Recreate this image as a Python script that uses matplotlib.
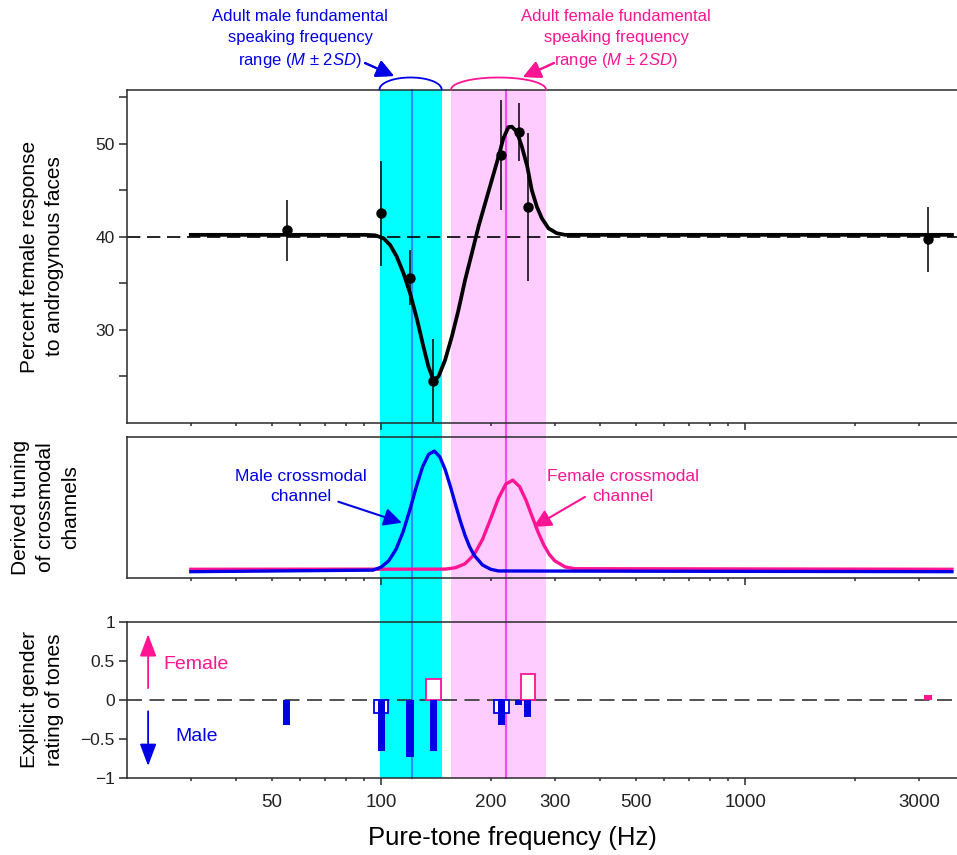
import numpy as np
import matplotlib.pyplot as plt
from matplotlib.transforms import blended_transform_factory
from matplotlib.patches import Rectangle
from matplotlib.lines import Line2D

plt.rcParams['font.family'] = ['Liberation Sans', 'DejaVu Sans']
plt.rcParams['mathtext.fontset'] = 'custom'
plt.rcParams['mathtext.rm'] = 'Liberation Sans'
plt.rcParams['mathtext.it'] = 'Liberation Sans:italic'

MALE = '#0000e6'
FEMALE = '#ff1493'
INK = '#2a2a2a'

# tones that were tested (Hz) and the face responses
tone_hz = [55, 100, 120, 139, 214, 239, 253, 3180]
pct_female = [40.7, 42.5, 35.6, 24.5, 48.8, 51.3, 43.2, 39.7]
pct_err = [3.3, 5.7, 3.0, 4.5, 5.9, 3.1, 8.0, 3.5]
chance_level = 40

# fitted curve
fit_hz = [30, 90.4, 96.3, 101.5, 105.9, 110.4, 115.2, 120.1, 125.3, 130.7,
          134.9, 139.2, 143.7, 149.9, 156.4, 163.1, 170.1, 177.5, 185.1,
          193.1, 201.4, 210.1, 216.7, 223.7, 228.6, 236, 243.6, 252.1, 259.3,
          267.8, 276.4, 288.3, 303.9, 320.2, 341, 3700]
fit_pct = [40.2, 40.2, 40.15, 39.83, 39.1, 37.85, 36.06, 33.9, 31.2, 28.15,
           26.0, 24.57, 24.92, 26.72, 29.23, 32.1, 35.34, 38.2, 41.08, 43.6,
           46.1, 48.6, 50.6, 51.8, 51.85, 51.3, 49.7, 47.54, 45.03, 43.23,
           41.98, 40.9, 40.37, 40.2, 40.2, 40.2]

# derived crossmodal channels (arbitrary units)
male_hz = [30, 95, 100, 105, 110, 115, 120, 125, 130, 135, 140, 145, 150, 155,
           160, 165, 170, 175, 180, 190, 200, 210, 3700]
male_tuning = [0.047, 0.058, 0.079, 0.125, 0.208, 0.332, 0.488, 0.651, 0.791,
               0.879, 0.902, 0.861, 0.770, 0.651, 0.525, 0.407, 0.305, 0.224,
               0.164, 0.094, 0.064, 0.052, 0.047]
female_hz = [30, 150, 160, 170, 180, 190, 200, 210, 220, 230, 240, 250, 260,
             270, 280, 290, 300, 320, 340, 3700]
female_tuning = [0.064, 0.065, 0.075, 0.103, 0.167, 0.277, 0.423, 0.567, 0.668,
                 0.696, 0.651, 0.554, 0.437, 0.326, 0.235, 0.168, 0.124, 0.081,
                 0.068, 0.064]

# explicit gender rating of the tones
rating = [-0.33, -0.663, -0.735, -0.663, -0.33, -0.073, -0.223, 0.06]
box_hz = [100, 139, 214, 253]
box_rating = [-0.167, 0.26, -0.167, 0.333]

# speaking frequency ranges (M +/- 2SD) and means
male_range = (99, 146.6)
female_range = (155.7, 283.6)
male_mean = 121.9
female_mean = 220

W, H = 957, 855
fig = plt.figure(figsize=(W / 100, H / 100), dpi=100)


def fx(px):
    return px / W


def fy(py):
    return 1 - py / H


left = fx(126.7)
width = 1 - left
ax1 = fig.add_axes([left, fy(423.3), width, fy(90) - fy(423.3)])
ax2 = fig.add_axes([left, fy(578.3), width, fy(437.3) - fy(578.3)])
ax3 = fig.add_axes([left, fy(777.7), width, fy(621.7) - fy(777.7)])

for ax in (ax1, ax2, ax3):
    ax.set_facecolor('none')
    ax.set_xscale('log')
    ax.set_xlim(20, 3820)
    ax.spines['right'].set_visible(False)
    for s in ('left', 'top', 'bottom'):
        ax.spines[s].set_color(INK)
        ax.spines[s].set_linewidth(1.1)
    ax.set_xticks([100, 1000])
    ax.set_xticks([30, 40, 50, 60, 70, 80, 90, 200, 300, 400, 500, 600, 700,
                   800, 900, 2000, 3000], minor=True)
    ax.tick_params(axis='x', which='major', length=5, width=1.1, color=INK,
                   pad=7, labelsize=13.5, labelcolor='#222')
    ax.tick_params(axis='x', which='minor', length=2.5, width=1.1, color=INK,
                   pad=9.5, labelsize=13.5, labelcolor='#222')
    ax.tick_params(axis='y', length=6, width=1.1, color=INK, pad=2.5,
                   labelsize=12.5, labelcolor='#222')
    ax.tick_params(axis='y', which='minor', length=6, width=1.1, color=INK)
    ax.xaxis.set_major_formatter(plt.NullFormatter())
    ax.xaxis.set_minor_formatter(plt.NullFormatter())

# shaded speaking ranges and means, running through all three panels
span = blended_transform_factory(ax1.transData, fig.transFigure)
y_lo, y_hi = fy(777.7), fy(90)
for (a, b), col in ((male_range, '#00ffff'), (female_range, '#ffccff')):
    fig.add_artist(Rectangle((a, y_lo), b - a, y_hi - y_lo, transform=span,
                             facecolor=col, edgecolor='none', zorder=-2))
for m, col in ((male_mean, '#1e90ff'), (female_mean, '#ff44ff')):
    fig.add_artist(Line2D([m, m], [y_lo, y_hi], transform=span, color=col,
                          lw=1.5, zorder=-1))

# arcs over each range
t = np.linspace(0, np.pi, 60)
for (a, b), col in ((male_range, MALE), (female_range, FEMALE)):
    lc = (np.log10(a) + np.log10(b)) / 2
    hw = (np.log10(b) - np.log10(a)) / 2
    xs = 10 ** (lc + hw * np.cos(t))
    ys = fy(89.5) + (fy(77.5) - fy(89.5)) * np.sin(t)
    fig.add_artist(Line2D(xs, ys, transform=span, color=col, lw=1.3))

# top panel
ax1.axhline(chance_level, color='black', lw=1.2, dashes=(8, 4), zorder=1)
ax1.plot(fit_hz, fit_pct, color='black', lw=2.7, solid_joinstyle='round',
         zorder=3)
ax1.errorbar(tone_hz, pct_female, yerr=pct_err, fmt='o', color='black',
             ms=6.5, elinewidth=1.1, capsize=0, zorder=4)
ax1.set_ylim(19.9, 55.8)
ax1.set_yticks([30, 40, 50])
ax1.set_yticks([25, 35, 45, 55], minor=True)

# middle panel
ax2.plot(female_hz, female_tuning, color=FEMALE, lw=2.4, zorder=3)
ax2.plot(male_hz, male_tuning, color=MALE, lw=2.4, zorder=3)
ax2.set_ylim(0, 1)
ax2.set_yticks([])

ax2.text(60.2, 0.65, 'Male crossmodal\nchannel', color=MALE, fontsize=12.5,
         ha='center', va='center', linespacing=1.4)
ax2.annotate('', xy=(114, 0.394), xytext=(76.3, 0.543),
             arrowprops=dict(arrowstyle='-|>,head_length=0.6,head_width=0.3',
                             color=MALE, lw=1.5, mutation_scale=18,
                             shrinkA=0, shrinkB=0))
ax2.text(461, 0.65, 'Female crossmodal\nchannel', color=FEMALE, fontsize=12.5,
         ha='center', va='center', linespacing=1.4)
ax2.annotate('', xy=(262, 0.364), xytext=(363, 0.577),
             arrowprops=dict(arrowstyle='-|>,head_length=0.6,head_width=0.3',
                             color=FEMALE, lw=1.5, mutation_scale=18,
                             shrinkA=0, shrinkB=0))


# bottom panel
def log_bar(ax, f, h, half_dec, **kw):
    f = np.asarray(f, float)
    lo = f * 10 ** (-half_dec)
    ax.bar(lo, h, width=f * 10 ** half_dec - lo, align='edge', **kw)


ax3.axhline(0, color='#333333', lw=1.2, dashes=(9, 4.5), zorder=1)
box_cols = [FEMALE if v > 0 else MALE for v in box_rating]
log_bar(ax3, box_hz, box_rating, 0.0202, facecolor='white',
        edgecolor=box_cols, linewidth=1.3, zorder=2)
bar_cols = [FEMALE if v > 0 else MALE for v in rating]
log_bar(ax3, tone_hz, rating, 0.0098, color=bar_cols, linewidth=0, zorder=3)
ax3.set_ylim(-1, 1)
ax3.set_yticks([1, 0.5, 0, -0.5, -1])
ax3.set_yticklabels(['1', '0.5', '0', '\u22120.5', '\u22121'])
ax3.xaxis.set_major_formatter(plt.FixedFormatter(['100', '1000']))
ax3.xaxis.set_minor_formatter(plt.FixedFormatter(
    ['', '', '50', '', '', '', '', '200', '300', '', '500', '', '', '', '',
     '', '3000']))

vstyle = '-|>,head_length=0.8,head_width=0.3'
ax3.annotate('', xy=(22.9, 0.84), xytext=(22.9, 0.148),
             arrowprops=dict(arrowstyle=vstyle, color=FEMALE, lw=1.3,
                             mutation_scale=17, shrinkA=0, shrinkB=0))
ax3.annotate('', xy=(22.9, -0.85), xytext=(22.9, -0.149),
             arrowprops=dict(arrowstyle=vstyle, color=MALE, lw=1.3,
                             mutation_scale=17, shrinkA=0, shrinkB=0))
ax3.text(25.2, 0.45, 'Female', color=FEMALE, fontsize=14, va='center')
ax3.text(27.2, -0.47, 'Male', color=MALE, fontsize=14, va='center')

# labels
fig.text(fx(41.7), fy(256.5), 'Percent female response\nto androgynous faces',
         rotation=90, ha='center', va='center', fontsize=15, linespacing=1.4)
fig.text(fx(45.8), fy(507.5), 'Derived tuning\nof crossmodal\nchannels',
         rotation=90, ha='center', va='center', fontsize=15, linespacing=1.4)
fig.text(fx(41.7), fy(699.5), 'Explicit gender\nrating of tones',
         rotation=90, ha='center', va='center', fontsize=15, linespacing=1.4)
fig.text(fx(512), fy(838), 'Pure-tone frequency (Hz)', ha='center',
         va='center', fontsize=18.5)

fig.text(fx(300), fy(39.5),
         'Adult male fundamental\nspeaking frequency\nrange ($\\mathit{M}$ \u00b1 2$\\mathit{SD}$)',
         color=MALE, ha='center', va='center', fontsize=12, linespacing=1.45)
fig.text(fx(616), fy(39.5),
         'Adult female fundamental\nspeaking frequency\nrange ($\\mathit{M}$ \u00b1 2$\\mathit{SD}$)',
         color=FEMALE, ha='center', va='center', fontsize=12, linespacing=1.45)
tstyle = '-|>,head_length=0.6,head_width=0.3'
fig.add_artist(plt.annotate('', xy=(fx(394), fy(76)), xytext=(fx(365), fy(63)),
                            xycoords='figure fraction',
                            textcoords='figure fraction',
                            arrowprops=dict(arrowstyle=tstyle, color=MALE,
                                            lw=1.5, mutation_scale=18,
                                            shrinkA=0, shrinkB=0)))
fig.add_artist(plt.annotate('', xy=(fx(523), fy(77)), xytext=(fx(554), fy(63)),
                            xycoords='figure fraction',
                            textcoords='figure fraction',
                            arrowprops=dict(arrowstyle=tstyle, color=FEMALE,
                                            lw=1.5, mutation_scale=18,
                                            shrinkA=0, shrinkB=0)))

fig.savefig('out.png', dpi=100)
